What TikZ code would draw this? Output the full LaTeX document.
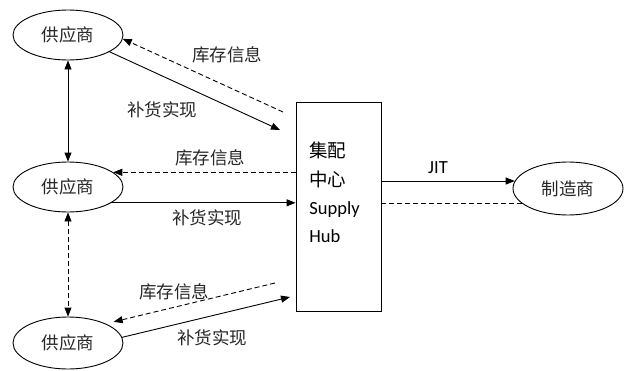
\documentclass[tikz,border=0pt]{standalone}
\usepackage{fontspec}
\setmainfont{Carlito}
\newfontfamily\cjk{Noto Sans CJK SC}
\usetikzlibrary{arrows.meta,shapes.geometric}

\begin{document}
\begin{tikzpicture}[x=1pt,y=-1pt,line width=0.9pt,
  party/.style={draw,ellipse,minimum width=110pt,minimum height=50pt,inner sep=0pt,
    font=\cjk\fontsize{17.5}{20}\selectfont,text=black!85},
  lbl/.style={inner sep=0pt,font=\cjk\fontsize{17.5}{20}\selectfont,text=black!85},
  goods/.style={-{Triangle[length=9pt,width=7pt]}},
  both/.style={{Triangle[length=9pt,width=7pt]}-{Triangle[length=9pt,width=7pt]}},
  info/.style={dash pattern=on 5pt off 3pt}]
  \useasboundingbox (0,0) rectangle (630,370);
  \node[party] (sup1) at (68,35) {供应商};
  \node[party] (sup2) at (68,187) {供应商};
  \node[party,minimum height=52pt] (sup3) at (68,343) {供应商};
  \node[party,minimum height=53pt] (maker) at (568,188.5) {制造商};
  \node[draw,minimum width=85pt,minimum height=209pt] (hub) at (338.5,206.5) {};
  \node[align=left,anchor=west,inner sep=0pt,font=\fontsize{18.5}{28.3}\selectfont] (hubname) at (309,192.5)
    {{\cjk 集配}\\{\cjk 中心}\\Supply\\Hub};
  \coordinate (a1) at (280,130);
  \coordinate (b1) at (283,112);
  \coordinate (a3) at (290,297);
  \coordinate (b3) at (275,283);
  \draw[goods] (sup1.-22) -- (a1);
  \draw[info,goods] (b1) -- (sup1.-4);
  \draw[info,goods] (hub.west |- sup2.18) -- (sup2.18);
  \draw[goods] (sup2.-20) -- (sup2.-20 -| hub.west);
  \draw[info,goods,shorten >=8pt] (b3) -- (sup3.27);
  \draw[goods] (sup3.6) -- (a3);
  \draw[both] (sup1) -- (sup2);
  \draw[both,info] (sup2) -- (sup3);
  \draw[goods] (hub.east |- maker.172) -- (maker.172);
  \draw[info] (hub.east |- maker.198) -- (maker.198);
  \node[lbl] (stock1) at (227,55) {库存信息};
  \node[lbl] (fill1) at (162,110) {补货实现};
  \node[lbl] (stock2) at (210,158) {库存信息};
  \node[lbl] (fill2) at (207,218) {补货实现};
  \node[lbl] (stock3) at (174,292) {库存信息};
  \node[lbl] (fill3) at (212,338) {补货实现};
  \node[inner sep=0pt,font=\fontsize{18.5}{22}\selectfont] (jit) at (438,168) {JIT};
\end{tikzpicture}
\end{document}
